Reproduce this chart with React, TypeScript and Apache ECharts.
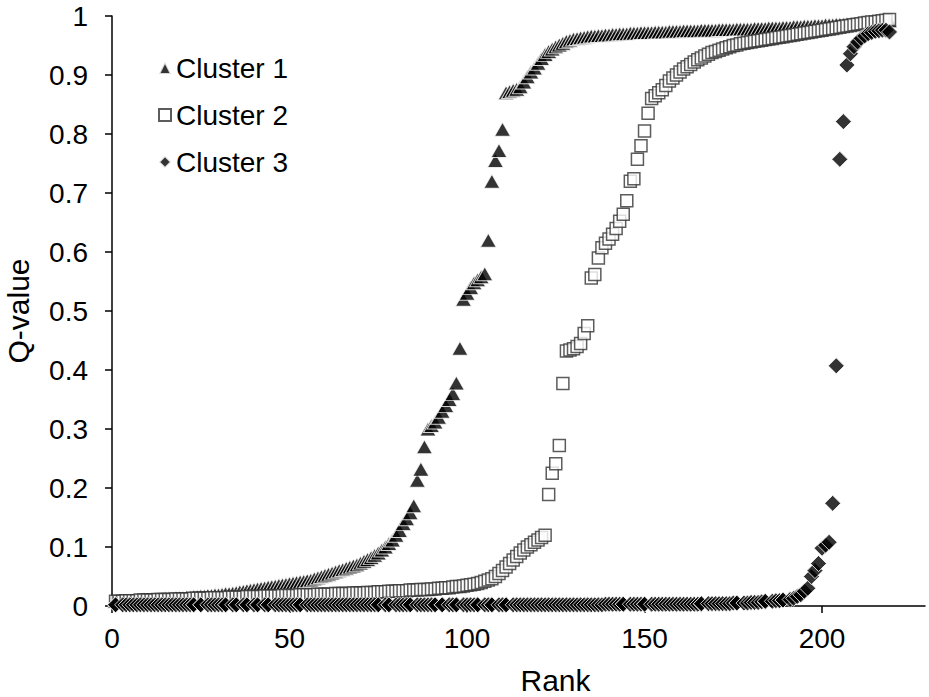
import React, { useEffect, useRef } from "react";
import * as echarts from "echarts";

const seriesNames = ["Cluster 1", "Cluster 2", "Cluster 3"];
const xTickValues = [0, 50, 100, 150, 200];

// Q-values by rank (rank = position + 1)
const cluster1 = [
  0.008, 0.008, 0.009, 0.009, 0.009, 0.010, 0.010, 0.010, 0.011, 0.011,
  0.011, 0.012, 0.012, 0.012, 0.013, 0.013, 0.013, 0.014, 0.014, 0.014,
  0.015, 0.015, 0.016, 0.016, 0.017, 0.017, 0.018, 0.018, 0.019, 0.019,
  0.020, 0.021, 0.021, 0.022, 0.023, 0.024, 0.025, 0.026, 0.027, 0.028,
  0.029, 0.030, 0.031, 0.032, 0.033, 0.034, 0.035, 0.036, 0.037, 0.038,
  0.039, 0.040, 0.041, 0.042, 0.043, 0.044, 0.046, 0.048, 0.050, 0.052,
  0.054, 0.056, 0.058, 0.060, 0.062, 0.064, 0.066, 0.068, 0.070, 0.073,
  0.076, 0.079, 0.082, 0.086, 0.090, 0.095, 0.100, 0.106, 0.112, 0.120,
  0.128, 0.140, 0.148, 0.158, 0.170, 0.213, 0.232, 0.270, 0.300, 0.306,
  0.312, 0.320, 0.330, 0.340, 0.350, 0.360, 0.378, 0.437, 0.520, 0.530,
  0.540, 0.548, 0.553, 0.558, 0.563, 0.620, 0.720, 0.755, 0.772, 0.808,
  0.870, 0.872, 0.874, 0.876, 0.880, 0.888, 0.897, 0.905, 0.912, 0.920,
  0.928, 0.935, 0.940, 0.944, 0.948, 0.951, 0.954, 0.957, 0.959, 0.961,
  0.962, 0.963, 0.964, 0.965, 0.966, 0.966, 0.967, 0.967, 0.968, 0.968,
  0.969, 0.969, 0.970, 0.970, 0.970, 0.971, 0.971, 0.971, 0.972, 0.972,
  0.972, 0.972, 0.973, 0.973, 0.973, 0.973, 0.974, 0.974, 0.974, 0.974,
  0.975, 0.975, 0.975, 0.975, 0.975, 0.976, 0.976, 0.976, 0.976, 0.976,
  0.977, 0.977, 0.977, 0.977, 0.977, 0.978, 0.978, 0.978, 0.978, 0.978,
  0.979, 0.979, 0.979, 0.979, 0.980, 0.980, 0.980, 0.980, 0.981, 0.981,
  0.981, 0.982, 0.982, 0.982, 0.983, 0.983, 0.983, 0.984, 0.984, 0.984,
  0.985, 0.985, 0.985, 0.986, 0.986, 0.986, 0.987, 0.987, 0.987, 0.988,
  0.988, 0.988, 0.989, 0.989, 0.990, 0.990, 0.991, 0.991, 0.992,
];

const cluster2 = [
  0.008, 0.008, 0.008, 0.009, 0.009, 0.009, 0.009, 0.010, 0.010, 0.010,
  0.010, 0.010, 0.011, 0.011, 0.011, 0.011, 0.011, 0.012, 0.012, 0.012,
  0.012, 0.012, 0.013, 0.013, 0.013, 0.013, 0.013, 0.014, 0.014, 0.014,
  0.014, 0.014, 0.015, 0.015, 0.015, 0.015, 0.015, 0.016, 0.016, 0.016,
  0.016, 0.016, 0.017, 0.017, 0.017, 0.017, 0.017, 0.018, 0.018, 0.018,
  0.018, 0.018, 0.019, 0.019, 0.019, 0.019, 0.019, 0.020, 0.020, 0.020,
  0.020, 0.020, 0.021, 0.021, 0.021, 0.021, 0.021, 0.022, 0.022, 0.022,
  0.022, 0.023, 0.023, 0.023, 0.024, 0.024, 0.024, 0.025, 0.025, 0.025,
  0.026, 0.026, 0.026, 0.027, 0.027, 0.027, 0.028, 0.028, 0.028, 0.029,
  0.029, 0.030, 0.030, 0.031, 0.031, 0.032, 0.033, 0.033, 0.034, 0.035,
  0.036, 0.037, 0.038, 0.040, 0.042, 0.044, 0.046, 0.050, 0.055, 0.060,
  0.066, 0.072, 0.078, 0.084, 0.090, 0.095, 0.100, 0.104, 0.108, 0.112,
  0.116, 0.120, 0.189, 0.225, 0.241, 0.272, 0.377, 0.432, 0.434, 0.436,
  0.440, 0.445, 0.462, 0.475, 0.556, 0.562, 0.590, 0.607, 0.615, 0.622,
  0.630, 0.640, 0.652, 0.664, 0.687, 0.720, 0.724, 0.757, 0.780, 0.805,
  0.835, 0.860, 0.865, 0.870, 0.875, 0.882, 0.890, 0.895, 0.900, 0.905,
  0.910, 0.914, 0.918, 0.922, 0.926, 0.929, 0.932, 0.935, 0.938, 0.940,
  0.942, 0.944, 0.946, 0.948, 0.950, 0.951, 0.953, 0.954, 0.955, 0.956,
  0.957, 0.958, 0.959, 0.960, 0.961, 0.962, 0.963, 0.964, 0.965, 0.966,
  0.967, 0.968, 0.969, 0.970, 0.971, 0.972, 0.973, 0.974, 0.975, 0.976,
  0.977, 0.978, 0.979, 0.980, 0.981, 0.982, 0.983, 0.984, 0.985, 0.986,
  0.987, 0.988, 0.989, 0.990, 0.990, 0.991, 0.992, 0.993, 0.994,
];

const cluster3 = [
  0.002, 0.002, 0.002, 0.002, 0.002, 0.002, 0.002, 0.002, 0.002, 0.002,
  0.002, 0.002, 0.002, 0.002, 0.002, 0.002, 0.002, 0.002, 0.002, 0.002,
  0.002, 0.002, 0.002, 0.002, 0.002, 0.002, 0.002, 0.002, 0.002, 0.002,
  0.002, 0.002, 0.002, 0.002, 0.002, 0.002, 0.002, 0.002, 0.002, 0.002,
  0.002, 0.002, 0.002, 0.002, 0.002, 0.002, 0.002, 0.002, 0.002, 0.002,
  0.002, 0.002, 0.002, 0.002, 0.002, 0.002, 0.002, 0.002, 0.002, 0.002,
  0.002, 0.002, 0.002, 0.002, 0.002, 0.002, 0.002, 0.002, 0.002, 0.002,
  0.002, 0.002, 0.002, 0.002, 0.002, 0.002, 0.002, 0.002, 0.002, 0.002,
  0.002, 0.002, 0.002, 0.002, 0.002, 0.002, 0.002, 0.002, 0.002, 0.002,
  0.002, 0.002, 0.002, 0.002, 0.002, 0.002, 0.002, 0.002, 0.002, 0.002,
  0.002, 0.002, 0.002, 0.002, 0.002, 0.002, 0.002, 0.002, 0.002, 0.002,
  0.002, 0.002, 0.002, 0.002, 0.002, 0.002, 0.002, 0.002, 0.002, 0.002,
  0.002, 0.002, 0.002, 0.002, 0.002, 0.002, 0.002, 0.002, 0.002, 0.002,
  0.002, 0.002, 0.002, 0.002, 0.002, 0.002, 0.002, 0.002, 0.003, 0.003,
  0.003, 0.003, 0.003, 0.003, 0.003, 0.003, 0.003, 0.003, 0.003, 0.003,
  0.003, 0.003, 0.003, 0.003, 0.003, 0.003, 0.003, 0.003, 0.003, 0.003,
  0.003, 0.003, 0.003, 0.003, 0.003, 0.003, 0.004, 0.004, 0.004, 0.004,
  0.004, 0.004, 0.004, 0.004, 0.005, 0.005, 0.005, 0.005, 0.005, 0.006,
  0.006, 0.006, 0.007, 0.007, 0.008, 0.008, 0.009, 0.009, 0.010, 0.010,
  0.011, 0.013, 0.016, 0.019, 0.025, 0.030, 0.050, 0.060, 0.072, 0.098,
  0.103, 0.108, 0.174, 0.407, 0.757, 0.821, 0.917, 0.936, 0.948, 0.956,
  0.962, 0.966, 0.970, 0.972, 0.974, 0.975, 0.976, 0.976, 0.973,
];

// Cluster 3 ranks that are shared by two tied entries (the following rank is skipped)
const cluster3TiedRanks = [
  1, 23, 25, 32, 35, 38, 41, 44, 53, 75, 78, 84, 91, 93, 97, 103, 107, 111,
  144, 150, 166, 176, 184, 189,
];

const FONT = "'Liberation Sans', Arial, Helvetica, sans-serif";

export default function App() {
  const ref = useRef<HTMLDivElement>(null);

  useEffect(() => {
    if (!ref.current) return;
    const chart = echarts.init(ref.current, null, { renderer: "svg" });
    const toPoints = (arr: number[]) => arr.map((v, i) => [i + 1, v]);
    const toTiedPoints = (arr: number[], ties: number[]) =>
      arr.map((v, i) => {
        const natural = i + 1;
        const rank = ties.includes(natural - 1) ? natural - 1 : natural;
        return [rank, v];
      });
    const axisLineStyle = { color: "#000", width: 1.5 };

    chart.setOption({
      animation: false,
      backgroundColor: "#fff",
      textStyle: { fontFamily: FONT },
      grid: { left: 112, right: 4, top: 16, bottom: 91, containLabel: false, outerBoundsMode: "none" },
      legend: {
        orient: "vertical",
        left: 153,
        top: 49,
        itemGap: 19,
        itemWidth: 12,
        itemHeight: 12,
        data: seriesNames,
        textStyle: { fontSize: 28, color: "#000", fontFamily: FONT },
      },
      xAxis: {
        type: "value",
        min: 0,
        max: 229,
        name: "Rank",
        nameLocation: "middle",
        nameGap: 59,
        nameTextStyle: { fontSize: 30, color: "#000", padding: [0, 0, 0, 74], fontFamily: FONT },
        axisLine: { show: true, onZero: false, lineStyle: axisLineStyle },
        axisTick: { show: true, length: 7, inside: false, customValues: xTickValues, lineStyle: axisLineStyle },
        axisLabel: { fontSize: 28, color: "#000", margin: 18, customValues: xTickValues, fontFamily: FONT },
        splitLine: { show: false },
      },
      yAxis: {
        type: "value",
        min: 0,
        max: 1,
        interval: 0.1,
        name: "Q-value",
        nameLocation: "middle",
        nameGap: 79,
        nameTextStyle: { fontSize: 30, color: "#000", fontFamily: FONT },
        axisLine: { show: true, lineStyle: axisLineStyle },
        axisTick: { show: true, length: 7, inside: false, lineStyle: axisLineStyle },
        axisLabel: { fontSize: 28, color: "#000", margin: 24, fontFamily: FONT },
        splitLine: { show: false },
      },
      series: [
        {
          name: seriesNames[0],
          type: "scatter",
          data: toPoints(cluster1),
          symbol: "triangle",
          symbolSize: [16, 14],
          itemStyle: { color: "#000", borderColor: "#fff", borderWidth: 1 },
        },
        {
          name: seriesNames[1],
          type: "scatter",
          data: toPoints(cluster2),
          symbol: "rect",
          symbolSize: 12,
          itemStyle: { color: "#fff", borderColor: "#333", borderWidth: 1.5 },
        },
        {
          name: seriesNames[2],
          type: "scatter",
          data: toTiedPoints(cluster3, cluster3TiedRanks),
          symbol: "diamond",
          symbolSize: [16, 16],
          itemStyle: { color: "#000", borderColor: "#fff", borderWidth: 1 },
        },
      ],
    });

    return () => chart.dispose();
  }, []);

  return (
    <div
      ref={ref}
      style={{ position: "fixed", left: 0, top: 0, width: 929, height: 697, background: "#fff" }}
    />
  );
}
